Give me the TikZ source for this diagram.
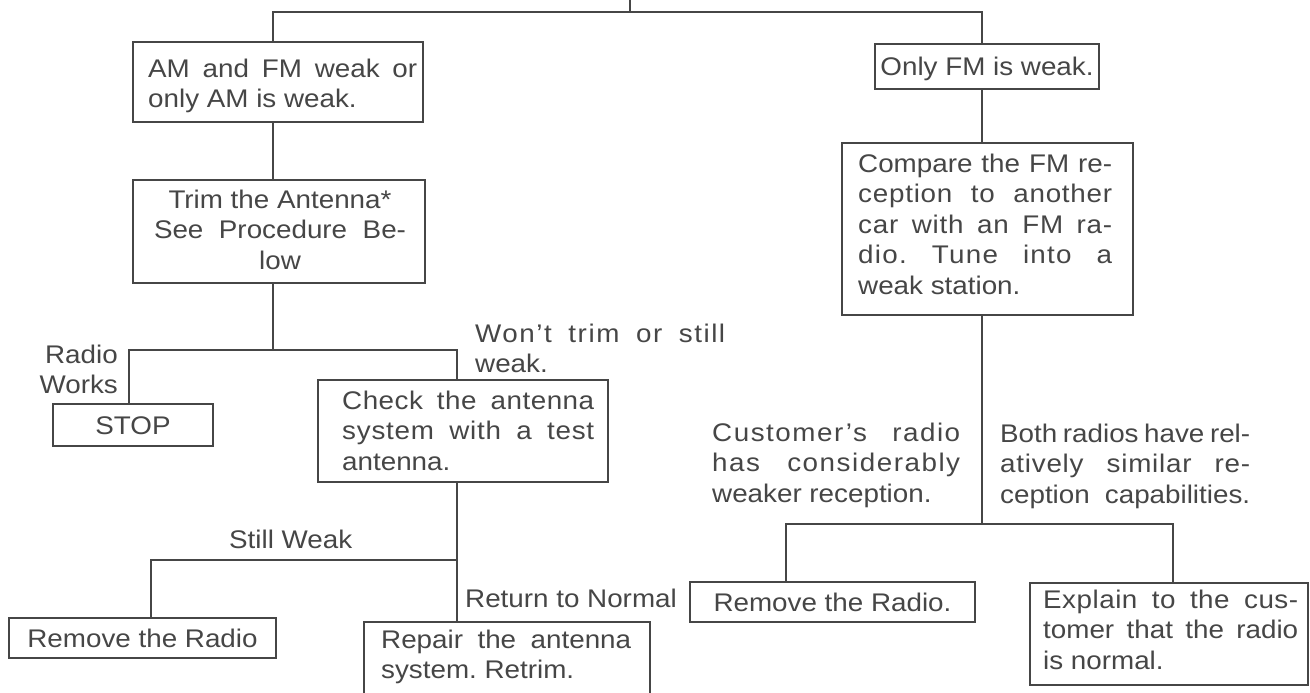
\documentclass[tikz,border=0pt]{standalone}
\usepackage{fontspec}
\setmainfont{Liberation Sans}[FakeStretch=1.09]
\definecolor{ink}{RGB}{70,70,70}
\frenchspacing
\newcommand{\fstrut}{\rule{0pt}{20pt}}
\newcommand{\jst}[2]{\makebox[#1pt][s]{#2}}
\newcommand{\lsp}[3]{\makebox[#1pt][s]{\addfontfeature{LetterSpace=#2}#3}}
\begin{document}
\begin{tikzpicture}[x=1pt,y=-1pt,
  every node/.style={text=ink, font=\fontsize{25.5pt}{30.5pt}\selectfont},
  box/.style={draw=ink, line width=2.9pt, inner sep=0pt},
  inbox/.style={box, text height=18.3pt, text depth=0pt},
  txt/.style={inner sep=0pt, align=left, anchor=north west},
  conn/.style={draw=ink, line width=2.9pt, line join=miter}]
\useasboundingbox (0,0) rectangle (1310,693);
\fill[white] (0,0) rectangle (1310,693);
\begin{scope}
\clip (0,0) rectangle (1310,693);

% ---- left branch boxes
\node[box, minimum width=290pt, minimum height=80pt] (b1) at (278,82) {};
\node[txt] (t1) at (148,57) {\fstrut\jst{269}{AM and FM weak or}\\only AM is weak.};
\node[box, minimum width=292pt, minimum height=103pt] (b2) at (279,231.5) {};
\node[txt, align=center, anchor=north] (t2) at (280,188) {\fstrut Trim the Antenna*\\\jst{252}{See Procedure Be-}\\low};
\node[inbox, minimum width=160pt, minimum height=42pt] (stop) at (133,425) {STOP};
\node[txt, align=right, anchor=north east] (rw) at (118,343) {\fstrut Radio\\Works};
\node[txt] (wt) at (475,322) {\fstrut\lsp{250}{6}{Won't trim or still}\\weak.};
\node[box, minimum width=290pt, minimum height=102pt] (chk) at (463,431) {};
\node[txt] (tc) at (342,389) {\fstrut\lsp{252}{2}{Check the antenna}\\\lsp{252}{3}{system with a test}\\antenna.};
\node[txt] (sw) at (229,528) {\fstrut Still Weak};
\node[inbox, minimum width=267pt, minimum height=40pt] (rm1) at (142.5,638) {Remove the Radio};
\node[txt] (rn) at (465,587) {\fstrut Return to Normal};
\node[box, minimum width=286pt, minimum height=100pt] (rep) at (507,672) {};
\node[txt] (tr) at (381,628) {\fstrut\jst{250}{Repair the antenna}\\system. Retrim.};

% ---- right branch boxes
\node[inbox, minimum width=224pt, minimum height=45pt] (of) at (987,66.5) {Only FM is weak.};
\node[box, minimum width=291pt, minimum height=172pt] (cmp) at (987.5,229) {};
\node[txt] (tcmp) at (858,152) {\fstrut\jst{254}{Compare the FM re-}\\\lsp{254}{3}{ception to another}\\\lsp{254}{3}{car with an FM ra-}\\\lsp{254}{5}{dio. Tune into a}\\weak station.};
\node[txt] (cu) at (712,421) {\fstrut\lsp{248}{6}{Customer's radio}\\\lsp{248}{6}{has considerably}\\weaker reception.};
\node[txt] (bo) at (1000,422) {\fstrut\jst{250}{Both radios have rel-}\\\lsp{250}{3}{atively similar re-}\\\jst{250}{ception capabilities.}};
\node[inbox, minimum width=285pt, minimum height=40pt] (rm2) at (832.5,602) {Remove the Radio.};
\node[box, minimum width=278pt, minimum height=102pt] (ex) at (1169,634) {};
\node[txt] (tex) at (1043,588) {\fstrut\lsp{255}{2}{Explain to the cus-}\\\jst{255}{tomer that the radio}\\is normal.};

% ---- connectors
\coordinate (top) at (630,0);
\coordinate (mid) at (630,12);
\coordinate (c1) at (273,12);
\coordinate (c2) at (982,12);
\coordinate (j2) at (273,350);
\coordinate (L2) at (129,350);
\coordinate (R2) at (457,350);
\coordinate (L3) at (151,560);
\coordinate (R3) at (457,560);
\coordinate (j4) at (982,524);
\coordinate (L4) at (786,524);
\coordinate (R4) at (1173,524);

\draw[conn] (top) -- (mid);
\draw[conn] (c1 |- b1.north) -- (c1) -- (c2) -- (c2 |- of.north);
\draw[conn] (c1 |- b1.south) -- (c1 |- b2.north);
\draw[conn] (c1 |- b2.south) -- (j2);
\draw[conn] (L2 |- stop.north) -- (L2) -- (R2) -- (R2 |- chk.north);
\draw[conn] (R2 |- chk.south) -- (R2 |- rep.north);
\draw[conn] (L3 |- rm1.north) -- (L3) -- (R3);
\draw[conn] (c2 |- of.south) -- (c2 |- cmp.north);
\draw[conn] (c2 |- cmp.south) -- (j4);
\draw[conn] (L4 |- rm2.north) -- (L4) -- (R4) -- (R4 |- ex.north);
\end{scope}
\end{tikzpicture}
\end{document}
